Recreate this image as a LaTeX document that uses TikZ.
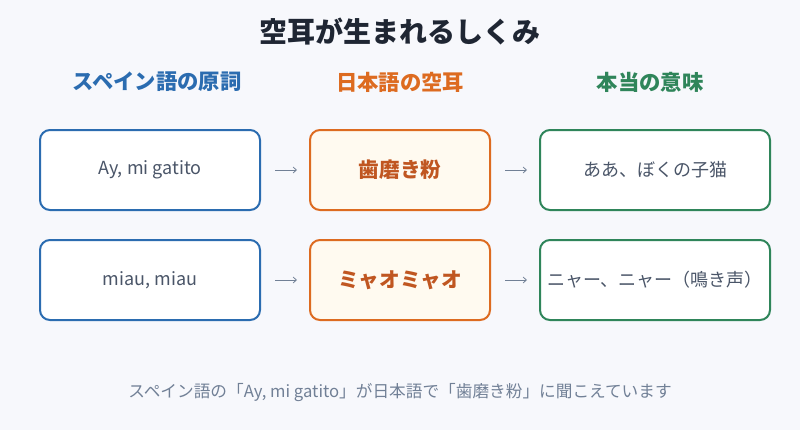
\documentclass[tikz,border=0pt]{standalone}
\usepackage{fontspec}
\setmainfont{Noto Sans CJK JP}
\usetikzlibrary{positioning, arrows.meta}

\definecolor{bgcol}{HTML}{F7F8FC}
\definecolor{titlecol}{HTML}{1F2633}
\definecolor{origcol}{HTML}{2B6CB0}
\definecolor{mishcol}{HTML}{DD6B20}
\definecolor{mishtext}{HTML}{C05621}
\definecolor{mishfill}{HTML}{FFFAF0}
\definecolor{meancol}{HTML}{2F855A}
\definecolor{textcol}{HTML}{4A5568}
\definecolor{notecol}{HTML}{718096}

\begin{document}
\begin{tikzpicture}[
    x=0.75pt, y=-0.75pt,
    node distance=22.5pt and 37.5pt,
    box/.style={
        rectangle,
        rounded corners=7.5pt,
        line width=1.5pt,
        outer sep=0pt,
        inner sep=2pt,
        fill=white,
        minimum height=60pt,
        text=textcol
    },
    origbox/.style={box, draw=origcol, minimum width=165pt,
        font=\fontsize{13.5}{16}\selectfont},
    mishbox/.style={box, draw=mishcol, fill=mishfill, minimum width=135pt,
        text=mishtext, font=\fontsize{15.5}{18}\selectfont\bfseries},
    meanbox/.style={box, draw=meancol, minimum width=172.5pt,
        font=\fontsize{13.5}{16}\selectfont},
    heading/.style={font=\fontsize{16}{19}\selectfont\bfseries},
    flow/.style={draw=notecol, line width=0.6pt, -{Straight Barb[length=2.5pt, width=4.5pt]},
        shorten <=11.25pt, shorten >=9.75pt}
]

\fill[bgcol] (0,0) rectangle (800,430);
\useasboundingbox (0,0) rectangle (800,430);

\node (title) [font=\fontsize{21}{25}\selectfont\bfseries, text=titlecol] at (400,32) {空耳が生まれるしくみ};

\node (h1) [heading, text=origcol] at (157,82) {スペイン語の原詞};
\node (h2) [heading, text=mishcol] at (400,82) {日本語の空耳};
\node (h3) [heading, text=meancol] at (650,82) {本当の意味};

% row 1
\node (o1) [origbox] at (150,170) {Ay, mi gatito};
\node (k1) [mishbox, right=of o1] {歯磨き粉};
\node (m1) [meanbox, right=of k1] {ああ、ぼくの子猫};

% row 2
\node (o2) [origbox, below=of o1] {miau, miau};
\node (k2) [mishbox, right=of o2] {ミャオミャオ};
\node (m2) [meanbox, right=of k2] {ニャー、ニャー（鳴き声）};

\draw[flow] (o1) -- (k1);
\draw[flow] (k1) -- (m1);
\draw[flow] (o2) -- (k2);
\draw[flow] (k2) -- (m2);

\node (note) [font=\fontsize{12.5}{15}\selectfont, text=notecol] at (400,393)
    {スペイン語の「Ay, mi gatito」が日本語で「歯磨き粉」に聞こえています};

\end{tikzpicture}
\end{document}
